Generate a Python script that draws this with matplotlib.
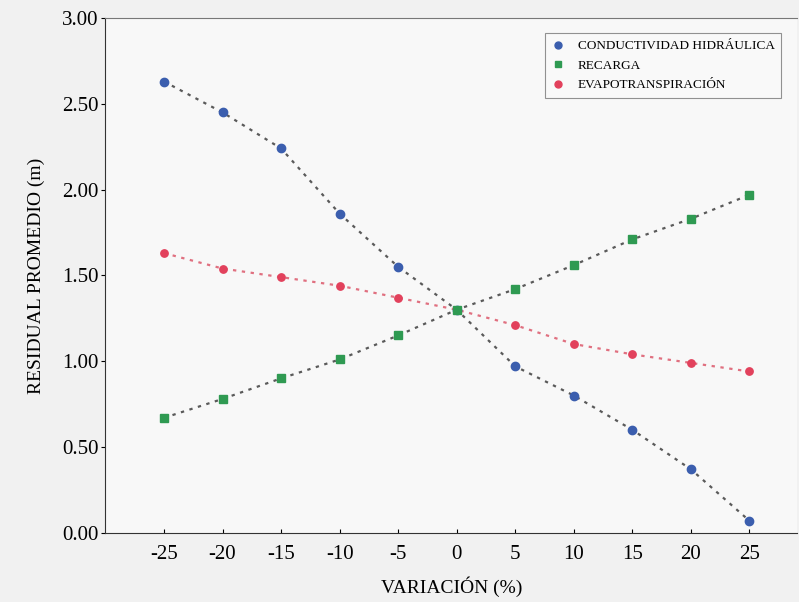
import matplotlib.pyplot as plt
from matplotlib.lines import Line2D

plt.rcParams['font.family'] = ['Liberation Serif', 'DejaVu Serif']
plt.rcParams['axes.unicode_minus'] = False

variacion = [-25, -20, -15, -10, -5, 0, 5, 10, 15, 20, 25]
conductividad = [2.63, 2.45, 2.24, 1.86, 1.55, 1.30, 0.97, 0.80, 0.60, 0.37, 0.07]
recarga = [0.67, 0.78, 0.90, 1.01, 1.15, 1.30, 1.42, 1.56, 1.71, 1.83, 1.97]
evapo = [1.63, 1.54, 1.49, 1.44, 1.37, 1.30, 1.21, 1.10, 1.04, 0.99, 0.94]

nombres = ['CONDUCTIVIDAD HIDRÁULICA', 'RECARGA', 'EVAPOTRANSPIRACIÓN']
yticks = [0.0, 0.5, 1.0, 1.5, 2.0, 2.5, 3.0]
xticks = [-25, -20, -15, -10, -5, 0, 5, 10, 15, 20, 25]

c_blue = '#3b5eae'
c_green = '#2f9a52'
c_red = '#e2415c'

f = plt.figure(figsize=(7.99, 6.02), dpi=100, facecolor='#f1f1f1')
ax = f.add_axes([0.132, 0.115, 0.866, 0.855])
ax.set_facecolor('#f8f8f8')

ls = (0, (1.5, 2.5))
ax.plot(variacion, conductividad, color='#5a5a5a', lw=1.6, ls=ls, zorder=2)
ax.plot(variacion, recarga, color='#5a5a5a', lw=1.6, ls=ls, zorder=2)
ax.plot(variacion, evapo, color='#e07080', lw=1.6, ls=ls, zorder=2)

ax.plot(variacion, conductividad, 'o', color=c_blue, ms=6, ls='none', zorder=3)
ax.plot(variacion, evapo, 'o', color=c_red, ms=5.3, ls='none', zorder=3)
ax.plot(variacion, recarga, 's', color=c_green, ms=6, ls='none', zorder=4)

ax.set_xlim(-30, 29.1)
ax.set_ylim(0, 3.0)
ax.set_xticks(xticks)
ax.set_yticks(yticks)
ax.set_yticklabels(['%.2f' % v for v in yticks])
ax.tick_params(axis='y', direction='out', length=3, labelsize=15, pad=2)
ax.tick_params(axis='x', direction='in', length=3, labelsize=15, pad=9)

ax.spines['right'].set_visible(False)
ax.spines['top'].set_color('#777777')
ax.spines['left'].set_color('#333333')
ax.spines['bottom'].set_color('#333333')

ax.set_ylabel('RESIDUAL PROMEDIO (m)', fontsize=14, labelpad=12)
ax.set_xlabel('VARIACIÓN (%)', fontsize=14, labelpad=9)

handles = [Line2D([], [], marker='o', color=c_blue, ls='none', ms=5),
           Line2D([], [], marker='s', color=c_green, ls='none', ms=5),
           Line2D([], [], marker='o', color=c_red, ls='none', ms=5)]
leg = ax.legend(handles, nombres, loc='upper right', bbox_to_anchor=(0.986, 0.983),
                fontsize=9.5, frameon=True, fancybox=False, edgecolor='#777777',
                handlelength=1.0, handletextpad=1.0, labelspacing=0.55,
                borderpad=0.5)
leg.get_frame().set_facecolor('#fafafa')
leg.get_frame().set_linewidth(0.8)

f.savefig('out.png', dpi=100, facecolor=f.get_facecolor())
